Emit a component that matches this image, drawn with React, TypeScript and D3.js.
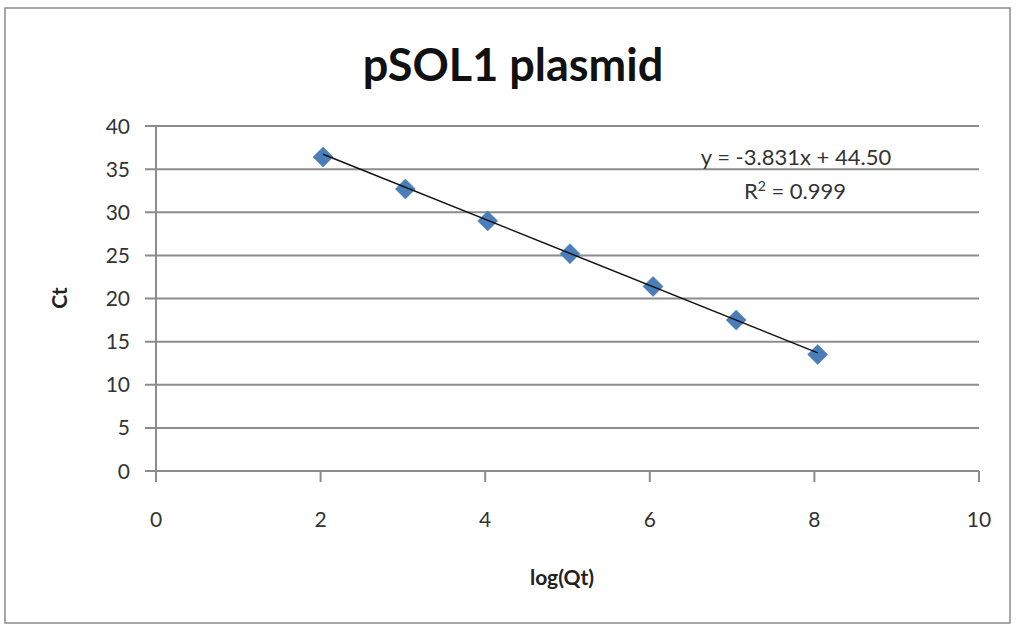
import React from 'react';
import * as d3 from 'd3';

const logQt = [2.03, 3.03, 4.03, 5.03, 6.04, 7.05, 8.04];
const ctValues = [36.4, 32.7, 29.0, 25.2, 21.4, 17.5, 13.5];
const xTicks = [0, 2, 4, 6, 8, 10];
const yTicks = [0, 5, 10, 15, 20, 25, 30, 35, 40];
const slope = -3.831;
const intercept = 44.5;

const W = 1016;
const H = 626;
const font = "Lato, 'Open Sans', sans-serif";

const App = () => {
  const x = d3.scaleLinear().domain([0, 10]).range([156, 979]);
  const y = d3.scaleLinear().domain([0, 40]).range([471, 126]);

  const trend = d3.line<number>()
    .x((d) => x(d))
    .y((d) => y(slope * d + intercept));
  const xs = [d3.min(logQt)!, d3.max(logQt)!];

  const diamond = (cx: number, cy: number, r: number) =>
    `M${cx},${cy - r}L${cx + r},${cy}L${cx},${cy + r}L${cx - r},${cy}Z`;

  return (
    <svg width={W} height={H} style={{ position: 'absolute', left: 0, top: 0, background: '#fff' }}>
      <rect x={5} y={8} width={1005} height={615} fill="#fff" stroke="#8a8a8a" strokeWidth={1.5} />

      <text x={513} y={81} textAnchor="middle" fontFamily={font} fontWeight="bold" fontSize={45} fill="#111">
        pSOL1 plasmid
      </text>

      {/* grid lines + y ticks */}
      {yTicks.map((t) => (
        <g key={t}>
          <line x1={145} x2={x(10)} y1={y(t)} y2={y(t)} stroke="#8c8c8c" strokeWidth={2} />
          <text x={130} y={y(t)} dy="0.36em" textAnchor="end" fontFamily={font} fontSize={21} fill="#333">
            {t}
          </text>
        </g>
      ))}

      {/* y axis */}
      <line x1={x(0)} x2={x(0)} y1={y(40)} y2={y(0) + 11} stroke="#8c8c8c" strokeWidth={2} />

      {/* x ticks */}
      {xTicks.map((t) => (
        <g key={t}>
          <line x1={x(t)} x2={x(t)} y1={y(0)} y2={y(0) + 11} stroke="#8c8c8c" strokeWidth={2} />
          <text x={x(t)} y={519} dy="0.36em" textAnchor="middle" fontFamily={font} fontSize={21} fill="#333">
            {t}
          </text>
        </g>
      ))}

      {/* points */}
      {logQt.map((v, i) => (
        <path key={i} d={diamond(x(v), y(ctValues[i]), 10)} fill="#4a7ebb" stroke="#3f70aa" strokeWidth={0.5} />
      ))}

      {/* trendline */}
      <path d={trend(xs)!} fill="none" stroke="#111" strokeWidth={1.5} />

      {/* equation */}
      <text x={796} y={165} textAnchor="middle" fontFamily={font} fontSize={22} fill="#333">
        y = -3.831x + 44.50
      </text>
      <text x={795} y={199} textAnchor="middle" fontFamily={font} fontSize={22} fill="#333">
        R<tspan dy={-8} fontSize={14}>2</tspan><tspan dy={8}> = 0.999</tspan>
      </text>

      {/* axis titles */}
      <text x={562} y={585} textAnchor="middle" fontFamily={font} fontWeight="bold" fontSize={21} fill="#222">
        log(Qt)
      </text>
      <text transform="translate(67,298) rotate(-90)" textAnchor="middle" fontFamily={font} fontWeight="bold" fontSize={21} fill="#222">
        Ct
      </text>
    </svg>
  );
};

export default App;
